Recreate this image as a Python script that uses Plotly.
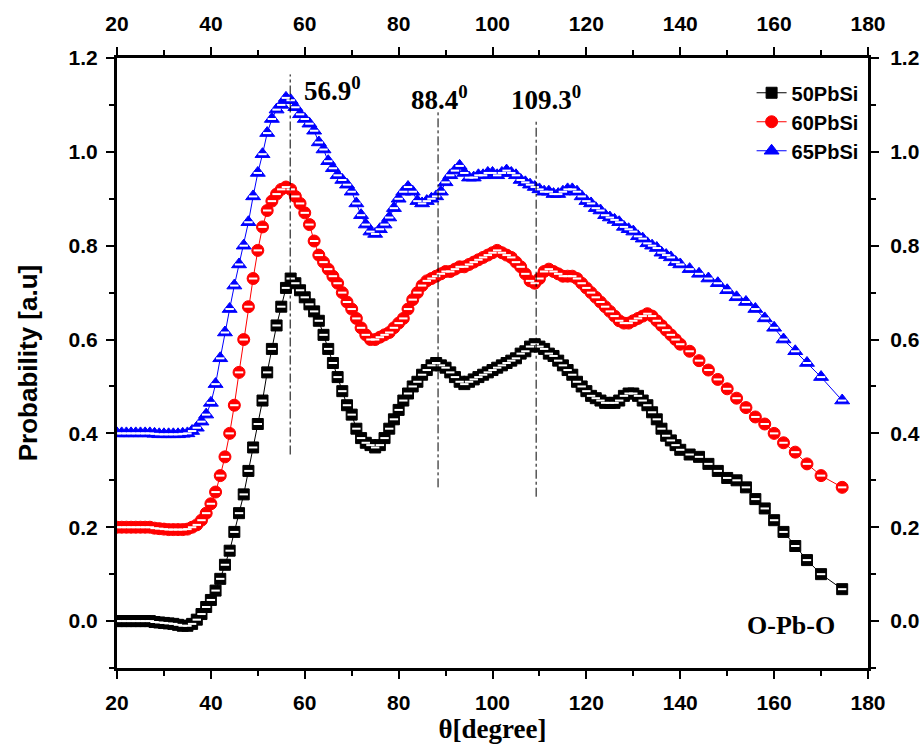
import plotly.graph_objects as go

# angle grid (degrees), shared by the three series
theta = [20, 21, 22, 23, 24, 25, 26, 27, 28, 29,
         30, 31, 32, 33, 34, 35, 36, 37, 38, 39,
         40, 41, 42, 43, 44, 45, 46, 47, 48, 49,
         50, 51, 52, 53, 54, 55, 56, 57, 58, 59,
         60, 61, 62, 63, 64, 65, 66, 67, 68, 69,
         70, 71, 72, 73, 74, 75, 76, 77, 78, 79,
         80, 81, 82, 83, 84, 85, 86, 87, 88, 89,
         90, 91, 92, 93, 94, 95, 96, 97, 98, 99,
         100, 101, 102, 103, 104, 105, 106, 107, 108, 109,
         110, 111, 112, 113, 114, 115, 116, 117, 118, 119,
         120, 121, 122, 123, 124, 125, 126, 127, 128, 129,
         130, 131, 132, 133, 134, 135, 136, 137, 138, 139,
         140, 142, 144, 146, 148, 150, 152, 154, 156, 158,
         160, 162, 164.5, 167, 170, 174.5]

pb50 = [0.0, 0.0, 0.0, 0.0, 0.0, 0.0, 0.0, 0.0, -0.002, -0.003,
        -0.004, -0.005, -0.006, -0.008, -0.01, -0.01, -0.006, 0.003, 0.015, 0.03,
        0.045, 0.065, 0.09, 0.12, 0.15, 0.19, 0.23, 0.27, 0.32, 0.37,
        0.42, 0.47, 0.53, 0.58, 0.63, 0.67, 0.71, 0.73, 0.72, 0.705,
        0.69, 0.675, 0.66, 0.64, 0.61, 0.58, 0.55, 0.52, 0.49, 0.46,
        0.44, 0.41, 0.39, 0.38, 0.375, 0.37, 0.375, 0.39, 0.41, 0.43,
        0.45, 0.47, 0.485, 0.50, 0.51, 0.525, 0.535, 0.545, 0.55, 0.545,
        0.54, 0.53, 0.52, 0.51, 0.505, 0.51, 0.515, 0.52, 0.525, 0.53,
        0.535, 0.54, 0.545, 0.55, 0.555, 0.56, 0.57, 0.575, 0.585, 0.59,
        0.585, 0.58, 0.57, 0.565, 0.555, 0.545, 0.535, 0.525, 0.51, 0.50,
        0.49, 0.48, 0.475, 0.47, 0.465, 0.465, 0.465, 0.47, 0.48, 0.485,
        0.485, 0.48, 0.47, 0.46, 0.445, 0.43, 0.41, 0.395, 0.385, 0.375,
        0.365, 0.355, 0.35, 0.335, 0.32, 0.305, 0.30, 0.285, 0.26, 0.24,
        0.215, 0.19, 0.16, 0.13, 0.10, 0.068]

pb60 = [0.2, 0.2, 0.2, 0.2, 0.2, 0.2, 0.2, 0.2, 0.198, 0.197,
        0.196, 0.195, 0.195, 0.195, 0.195, 0.196, 0.2, 0.205, 0.215, 0.23,
        0.25, 0.275, 0.31, 0.35, 0.40, 0.46, 0.53, 0.60, 0.67, 0.73,
        0.79, 0.84, 0.875, 0.895, 0.91, 0.92, 0.925, 0.92, 0.905, 0.89,
        0.87, 0.845, 0.81, 0.78, 0.765, 0.75, 0.735, 0.72, 0.70, 0.68,
        0.665, 0.645, 0.625, 0.61, 0.60, 0.60, 0.605, 0.61, 0.615, 0.625,
        0.635, 0.645, 0.665, 0.685, 0.70, 0.715, 0.725, 0.73, 0.735, 0.74,
        0.745, 0.745, 0.75, 0.755, 0.755, 0.76, 0.765, 0.77, 0.775, 0.78,
        0.785, 0.79, 0.785, 0.78, 0.775, 0.765, 0.755, 0.74, 0.725, 0.72,
        0.73, 0.745, 0.75, 0.745, 0.74, 0.735, 0.735, 0.735, 0.73, 0.72,
        0.71, 0.70, 0.69, 0.68, 0.67, 0.66, 0.65, 0.64, 0.635, 0.635,
        0.64, 0.645, 0.65, 0.655, 0.65, 0.64, 0.63, 0.62, 0.61, 0.60,
        0.59, 0.575, 0.555, 0.535, 0.515, 0.495, 0.475, 0.455, 0.435, 0.42,
        0.40, 0.38, 0.36, 0.335, 0.31, 0.285]

pb65 = [0.4, 0.4, 0.4, 0.4, 0.4, 0.4, 0.4, 0.4, 0.399, 0.398,
        0.398, 0.398, 0.398, 0.398, 0.399, 0.40, 0.405, 0.412, 0.425, 0.44,
        0.465, 0.505, 0.56, 0.615, 0.665, 0.715, 0.76, 0.80, 0.85, 0.905,
        0.955, 0.995, 1.04, 1.07, 1.09, 1.10, 1.115, 1.11, 1.095, 1.08,
        1.07, 1.06, 1.045, 1.02, 1.005, 0.98, 0.965, 0.95, 0.94, 0.93,
        0.915, 0.89, 0.865, 0.845, 0.83, 0.825, 0.835, 0.845, 0.86, 0.88,
        0.90, 0.915, 0.925, 0.915, 0.895, 0.89, 0.895, 0.90, 0.905, 0.915,
        0.935, 0.95, 0.96, 0.97, 0.955, 0.945, 0.945, 0.95, 0.95, 0.955,
        0.955, 0.95, 0.955, 0.96, 0.955, 0.95, 0.94, 0.935, 0.93, 0.925,
        0.92, 0.915, 0.915, 0.91, 0.91, 0.915, 0.92, 0.92, 0.915, 0.905,
        0.895, 0.89, 0.88, 0.875, 0.865, 0.86, 0.855, 0.85, 0.84, 0.835,
        0.83, 0.82, 0.815, 0.805, 0.80, 0.795, 0.785, 0.78, 0.775, 0.765,
        0.76, 0.75, 0.74, 0.73, 0.72, 0.705, 0.69, 0.68, 0.665, 0.645,
        0.625, 0.60, 0.575, 0.55, 0.52, 0.47]

series_names = ["50PbSi", "60PbSi", "65PbSi"]

# tick labels for the four frame axes
x_ticks = [20, 40, 60, 80, 100, 120, 140, 160, 180]
y_ticks = [0.0, 0.2, 0.4, 0.6, 0.8, 1.0, 1.2]

# peak positions marked with dash-dot lines: angle, lower end, upper end
peak_angles = [56.9, 88.4, 109.3]
peak_low = [0.355, 0.285, 0.265]
peak_high = [1.165, 1.09, 1.07]
peak_labels = ["56.9<sup>0</sup>", "88.4<sup>0</sup>", "109.3<sup>0</sup>"]
label_x = [59.5, 82.2, 103.5]
label_y = [1.135, 1.115, 1.115]

for s in (pb50, pb60, pb65):
    assert len(s) == len(theta)

SANS = "Liberation Sans"
SERIF = "Liberation Serif"

styles = [
    dict(color="black", symbol="square", size=11),
    dict(color="red", symbol="circle", size=12),
    dict(color="blue", symbol="triangle-up", size=13),
]

fig = go.Figure()

for name, vals, st in zip(series_names, [pb50, pb60, pb65], styles):
    fig.add_trace(go.Scatter(
        x=theta, y=vals, mode="lines+markers", name=name,
        line=dict(color=st["color"], width=1),
        marker=dict(symbol=st["symbol"], size=st["size"], color=st["color"],
                    line=dict(color=st["color"], width=1)),
    ))
    # white bar inside each marker -> half-filled look
    fig.add_trace(go.Scatter(
        x=theta, y=vals, mode="markers", showlegend=False, hoverinfo="skip",
        marker=dict(symbol="line-ew", size=6,
                    line=dict(color="white", width=2)),
    ))

# invisible copy on the top/right axes so that they get drawn
fig.add_trace(go.Scatter(
    x=theta, y=pb50, xaxis="x2", yaxis="y2", mode="markers",
    marker=dict(opacity=0), showlegend=False, hoverinfo="skip",
))

# dash-dot peak lines
for a, lo, hi in zip(peak_angles, peak_low, peak_high):
    fig.add_trace(go.Scatter(
        x=[a, a], y=[lo, hi], mode="lines", showlegend=False, hoverinfo="skip",
        line=dict(color="black", width=1, dash="dashdot"),
    ))

for txt, lx, ly in zip(peak_labels, label_x, label_y):
    fig.add_annotation(x=lx, y=ly, text="<b>" + txt + "</b>", showarrow=False,
                       xanchor="left", yanchor="middle",
                       font=dict(family=SERIF, size=27, color="black"))

fig.add_annotation(x=163.5, y=-0.01, text="<b>O-Pb-O</b>", showarrow=False,
                   font=dict(family=SERIF, size=26, color="black"))

tickfont = dict(family=SANS, size=21, color="black")
xcommon = dict(range=[20, 180], tickvals=x_ticks,
               ticktext=["<b>%d</b>" % v for v in x_ticks],
               ticks="outside", ticklen=8, automargin=False,
               tickwidth=2, tickcolor="black", showline=True, linewidth=3,
               linecolor="black", showgrid=False, zeroline=False,
               tickfont=tickfont,
               minor=dict(dtick=10, ticks="outside", ticklen=5, tickwidth=2,
                          tickcolor="black"))
ycommon = dict(range=[-0.1, 1.2], tickvals=y_ticks,
               ticktext=["<b>%.1f</b>" % v for v in y_ticks],
               ticks="outside", ticklen=8, tickwidth=2, tickcolor="black",
               showline=True, linewidth=3, linecolor="black", showgrid=False,
               zeroline=False, tickfont=tickfont, automargin=False,
               minor=dict(dtick=0.1, tick0=0, ticks="outside", ticklen=5,
                          tickwidth=2, tickcolor="black"))

fig.update_layout(
    width=922, height=748,
    paper_bgcolor="white", plot_bgcolor="white",
    margin=dict(l=117, r=54, t=58, b=80, autoexpand=False),
    showlegend=True,
    legend=dict(x=0.845, y=0.975, xanchor="left", yanchor="top",
                bgcolor="rgba(0,0,0,0)", tracegroupgap=0,
                font=dict(family=SANS, size=20, color="black", weight="bold")),
    xaxis=dict(**xcommon, ticklabelstandoff=6,
               title=dict(text="<b>θ[degree]</b>", standoff=6,
                          font=dict(family=SERIF, size=27, color="black"))),
    xaxis2=dict(**xcommon, overlaying="x", side="top", anchor="y",
                ticklabelstandoff=8),
    yaxis=dict(**ycommon, ticklabelstandoff=4,
               title=dict(text="<b>Probability [a.u]</b>", standoff=24,
                          font=dict(family=SANS, size=26, color="black"))),
    yaxis2=dict(**ycommon, overlaying="y", side="right", anchor="x",
                ticklabelstandoff=7),
)

# drop the default page margin so the figure fills the window exactly
fig.write_html("out.html", config={"displayModeBar": False},
               post_script="document.body.style.margin='0';"
                           "document.body.style.overflow='hidden';")
